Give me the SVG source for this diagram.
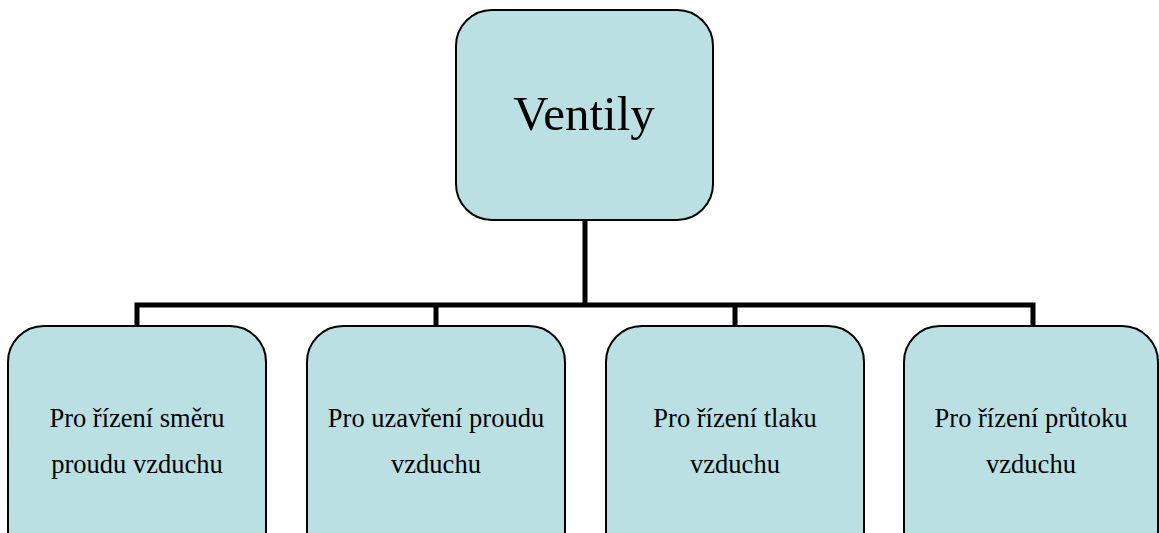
<svg xmlns="http://www.w3.org/2000/svg" width="1159" height="533" viewBox="0 0 1159 533">
  <style>
    .box { fill: #bae0e3; stroke: #000; stroke-width: 2; }
    .lbl { font-family: "Liberation Serif", "Times New Roman", serif; fill: #000; text-anchor: middle; }
    .top { font-size: 49px; }
    .sub { font-size: 26.5px; }
    .wire { fill: none; stroke: #000; stroke-width: 5; stroke-linejoin: miter; }
  </style>
  <rect width="1159" height="533" fill="#fff"/>

  <!-- tree connectors -->
  <g id="connectors">
    <path class="wire" d="M585,220 V305"/>
    <path class="wire" d="M137,327 V305 H1033 V327"/>
    <path class="wire" d="M436,305 V327"/>
    <path class="wire" d="M735,305 V327"/>
  </g>

  <g id="node-ventily">
    <rect class="box" x="456" y="10" width="257" height="210" rx="36" ry="36"/>
    <text class="lbl top" x="584" y="130">Ventily</text>
  </g>

  <g id="node-smer">
    <rect class="box" x="8" y="326" width="258" height="240" rx="36" ry="36"/>
    <text class="lbl sub" x="137" y="427">Pro řízení směru</text>
    <text class="lbl sub" x="137" y="473">proudu vzduchu</text>
  </g>

  <g id="node-uzavreni">
    <rect class="box" x="307" y="326" width="258" height="240" rx="36" ry="36"/>
    <text class="lbl sub" x="436" y="427">Pro uzavření proudu</text>
    <text class="lbl sub" x="436" y="473">vzduchu</text>
  </g>

  <g id="node-tlak">
    <rect class="box" x="606" y="326" width="258" height="240" rx="36" ry="36"/>
    <text class="lbl sub" x="735" y="427">Pro řízení tlaku</text>
    <text class="lbl sub" x="735" y="473">vzduchu</text>
  </g>

  <g id="node-prutok">
    <rect class="box" x="904" y="326" width="254" height="240" rx="36" ry="36"/>
    <text class="lbl sub" x="1031" y="427">Pro řízení průtoku</text>
    <text class="lbl sub" x="1031" y="473">vzduchu</text>
  </g>
</svg>
